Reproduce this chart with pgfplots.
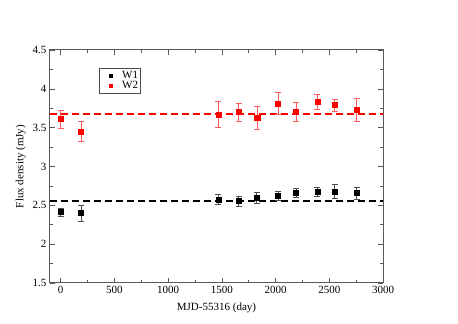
\documentclass[border=0pt]{standalone}
\usepackage{fontspec}
\setmainfont{Liberation Serif}
\usepackage{pgfplots}
\pgfplotsset{compat=1.18}

\pgfplotstableread{
x     y      e
0     2.414  0.055
187   2.401  0.100
1468  2.577  0.060
1657  2.555  0.068
1825  2.594  0.072
2022  2.628  0.056
2190  2.658  0.058
2390  2.676  0.054
2551  2.676  0.090
2754  2.658  0.073
}\wone

\pgfplotstableread{
x     y      e
0     3.611  0.115
187   3.453  0.130
1468  3.671  0.167
1657  3.701  0.115
1829  3.624  0.150
2022  3.811  0.140
2190  3.709  0.120
2390  3.833  0.100
2551  3.791  0.077
2754  3.731  0.150
}\wtwo

\begin{document}
\begin{tikzpicture}[x=1pt,y=1pt]
\path (0,0) rectangle (458,324);
\begin{axis}[
    at={(50pt,41pt)}, anchor=south west,
    scale only axis, width=333pt, height=233pt,
    xmin=-100, xmax=3000, ymin=1.5, ymax=4.5,
    xtick={0,500,...,3000}, ytick={1.5,2,...,4.5},
    minor x tick num=1, minor y tick num=1,
    tick align=inside, tick pos=both,
    major tick length=5pt, minor tick length=3pt,
    axis line style={black!65, line width=1pt},
    tick style={black!65, line width=0.6pt},
    xticklabel style={font=\fontsize{11}{13}\selectfont},
    yticklabel style={font=\fontsize{11}{13}\selectfont},
    /pgf/number format/assume math mode=true,
    /pgf/number format/.cd, fixed, 1000 sep={}, /pgfplots/.cd,
    xlabel={MJD-55316 (day)}, ylabel={Flux density (mJy)},
    label style={font=\fontsize{11}{13}\selectfont},
    xlabel style={yshift=-2pt},
    legend style={at={(0.147,0.923)}, anchor=north west, draw=black!70,
        line width=0.8pt,
        font=\fontsize{11}{13}\selectfont, inner xsep=0pt, inner ysep=1pt,
        row sep=-2.5pt},
    legend image code/.code={%
        \path (0pt,0pt) (20pt,0pt);
        \draw[#1, mark size=1.6pt] plot coordinates {(11pt,0pt)};},
    legend cell align=left,
]
\addplot[color=red, dash pattern=on 7pt off 4pt, line width=1.3pt, forget plot]
    coordinates {(-100,3.676) (3000,3.676)};
\addplot[color=black, dash pattern=on 7pt off 4pt, line width=1.3pt, forget plot]
    coordinates {(-100,2.555) (3000,2.555)};
\addplot[only marks, mark=square*, mark size=2.6pt, black,
    error bars/.cd, y dir=both, y explicit,
    error bar style={black!70, line width=0.6pt},
    error mark options={rotate=90, mark size=3pt, black!70}]
    table[x=x, y=y, y error=e] {\wone};
\addlegendentry{W1}
\addplot[only marks, mark=square*, mark size=2.6pt, red,
    error bars/.cd, y dir=both, y explicit,
    error bar style={red!65, line width=0.6pt},
    error mark options={rotate=90, mark size=3pt, red!65}]
    table[x=x, y=y, y error=e] {\wtwo};
\addlegendentry{W2}
\end{axis}
\end{tikzpicture}
\end{document}
